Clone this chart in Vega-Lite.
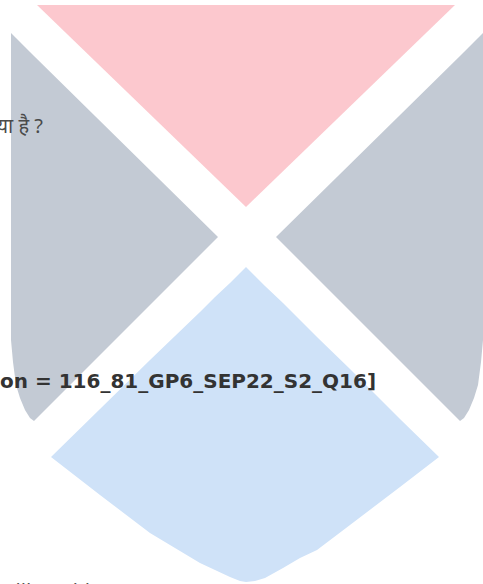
{
  "$schema": "https://vega.github.io/schema/vega-lite/v6.json",
  "width": 483,
  "height": 584,
  "padding": 0,
  "autosize": {"type": "none"},
  "background": "white",
  "config": {"view": {"stroke": null}},
  "datasets": {
    "shapes": [
      {"shape": "pink", "x": 37, "y": 5, "y2": 5},
      {"shape": "pink", "x": 246, "y": 5, "y2": 207},
      {"shape": "pink", "x": 455, "y": 5, "y2": 5},
      {"shape": "grayL", "x": 11, "y": 33, "y2": 340},
      {"shape": "grayL", "x": 13, "y": 35, "y2": 362},
      {"shape": "grayL", "x": 16, "y": 38, "y2": 385},
      {"shape": "grayL", "x": 20, "y": 42, "y2": 398},
      {"shape": "grayL", "x": 25, "y": 47, "y2": 410},
      {"shape": "grayL", "x": 30, "y": 52, "y2": 418},
      {"shape": "grayL", "x": 34, "y": 56, "y2": 421},
      {"shape": "grayL", "x": 218, "y": 237, "y2": 237},
      {"shape": "grayR", "x": 276, "y": 237, "y2": 237},
      {"shape": "grayR", "x": 460, "y": 56, "y2": 421},
      {"shape": "grayR", "x": 464, "y": 52, "y2": 418},
      {"shape": "grayR", "x": 469, "y": 47, "y2": 410},
      {"shape": "grayR", "x": 474, "y": 42, "y2": 398},
      {"shape": "grayR", "x": 478, "y": 38, "y2": 385},
      {"shape": "grayR", "x": 481, "y": 35, "y2": 362},
      {"shape": "grayR", "x": 483, "y": 33, "y2": 340},
      {"shape": "blue", "x": 51, "y": 457, "y2": 457},
      {"shape": "blue", "x": 100, "y": 409, "y2": 495},
      {"shape": "blue", "x": 150, "y": 360, "y2": 533},
      {"shape": "blue", "x": 175, "y": 336, "y2": 548},
      {"shape": "blue", "x": 200, "y": 312, "y2": 563},
      {"shape": "blue", "x": 215, "y": 297, "y2": 570},
      {"shape": "blue", "x": 230, "y": 283, "y2": 577},
      {"shape": "blue", "x": 240, "y": 273, "y2": 581},
      {"shape": "blue", "x": 246, "y": 267, "y2": 582},
      {"shape": "blue", "x": 255, "y": 276, "y2": 581},
      {"shape": "blue", "x": 265, "y": 286, "y2": 578},
      {"shape": "blue", "x": 283, "y": 303, "y2": 568},
      {"shape": "blue", "x": 300, "y": 320, "y2": 558},
      {"shape": "blue", "x": 317, "y": 337, "y2": 550},
      {"shape": "blue", "x": 350, "y": 369, "y2": 525},
      {"shape": "blue", "x": 400, "y": 419, "y2": 487},
      {"shape": "blue", "x": 439, "y": 457, "y2": 457}
    ],
    "hindi": [{"label": "क्या है ?", "x": 43, "y": 133}],
    "code": [{"label": "on = 116_81_GP6_SEP22_S2_Q16]", "x": 0, "y": 388}],
    "bottom": [{"label": "will enable", "x": 0, "y": 598}]
  },
  "layer": [
    {
      "data": {"name": "shapes"},
      "mark": {"type": "area", "interpolate": "linear", "opacity": 1},
      "encoding": {
        "x": {"field": "x", "type": "quantitative", "scale": {"domain": [0, 483], "nice": false, "zero": false}, "axis": null},
        "y": {"field": "y", "type": "quantitative", "stack": null, "scale": {"domain": [0, 584], "nice": false, "zero": false, "reverse": true}, "axis": null},
        "y2": {"field": "y2"},
        "color": {"field": "shape", "type": "nominal", "legend": null,
          "scale": {"domain": ["pink", "grayL", "grayR", "blue"], "range": ["#FCC8CE", "#C3CAD4", "#C3CAD4", "#CFE2F8"]}}
      }
    },
    {
      "data": {"name": "hindi"},
      "mark": {"type": "text", "align": "right", "baseline": "alphabetic", "fontSize": 20, "font": "Noto Sans", "color": "#4a4a4a"},
      "encoding": {
        "x": {"field": "x", "type": "quantitative"},
        "y": {"field": "y", "type": "quantitative"},
        "text": {"field": "label"}
      }
    },
    {
      "data": {"name": "code"},
      "mark": {"type": "text", "align": "left", "baseline": "alphabetic", "fontSize": 20, "fontWeight": "bold", "font": "DejaVu Sans", "color": "#333333"},
      "encoding": {
        "x": {"field": "x", "type": "quantitative"},
        "y": {"field": "y", "type": "quantitative"},
        "text": {"field": "label"}
      }
    },
    {
      "data": {"name": "bottom"},
      "mark": {"type": "text", "align": "left", "baseline": "alphabetic", "fontSize": 19, "font": "DejaVu Sans", "color": "#555555"},
      "encoding": {
        "x": {"field": "x", "type": "quantitative"},
        "y": {"field": "y", "type": "quantitative"},
        "text": {"field": "label"}
      }
    }
  ]
}
